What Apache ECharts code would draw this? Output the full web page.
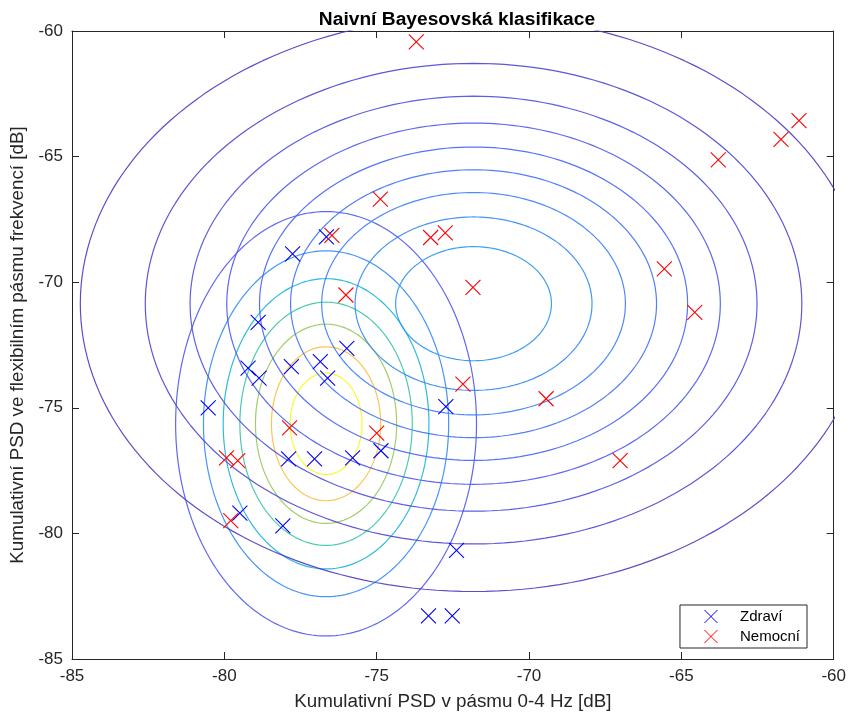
<!DOCTYPE html>
<html>
<head>
<meta charset="utf-8">
<title>Naivní Bayesovská klasifikace</title>
<style>
html, body {margin:0; padding:0; background:#fff;}
#chart {width:849px; height:717px;}
</style>
<script src="https://cdn.jsdelivr.net/npm/echarts@6/dist/echarts.min.js"></script>
</head>
<body>
<div id="chart"></div>
<script>
// kumulativní PSD v pásmu 0-4 Hz (x) a ve flexibilním pásmu (y), dB
const zdraviX = [-76.65, -77.76, -78.89, -79.22, -78.86, -77.80, -76.85, -75.98, -76.61, -80.53,
                 -72.73, -77.89, -77.04, -75.79, -74.86, -79.49, -78.08, -72.38, -73.30, -72.52];
const zdraviY = [-68.20, -68.87, -71.60, -73.42, -73.82, -73.36, -73.16, -72.63, -73.82, -75.00,
                 -74.95, -77.03, -77.03, -76.99, -76.71, -79.19, -79.70, -80.68, -83.28, -83.28];
const nemocniX = [-73.70, -74.88, -76.47, -73.23, -72.75, -76.01, -71.84, -65.56, -63.79, -61.73,
                  -61.14, -64.56, -72.17, -69.44, -67.01, -77.86, -75.00, -79.93, -79.56, -79.79];
const nemocniY = [-60.43, -66.69, -68.14, -68.22, -68.04, -70.51, -70.21, -69.47, -65.13, -64.31,
                  -63.57, -71.20, -74.06, -74.64, -77.10, -75.80, -76.01, -76.99, -77.10, -79.49];

// úrovně vrstevnic hustoty pro každou třídu
const levelsZdravi = [0.002, 0.004, 0.006, 0.008, 0.010, 0.012, 0.014];
const levelsNemocni = [0.0005, 0.001, 0.0015, 0.002, 0.0025, 0.003, 0.0035, 0.004, 0.0045];
const colorLimits = [0.0005, 0.014];

const axisTicks = [-85, -80, -75, -70, -65, -60];
const classNames = ['Zdraví', 'Nemocní'];

// parula (přibližně)
const parula = [
  [0.00, [74, 60, 192]], [0.10, [78, 84, 236]], [0.20, [62, 118, 250]], [0.30, [42, 150, 240]],
  [0.40, [22, 178, 222]], [0.55, [52, 196, 170]], [0.70, [150, 200, 92]], [0.85, [250, 190, 64]],
  [1.00, [248, 248, 24]]
];
function parulaColor(v){
  const t = Math.max(0, Math.min(1, (v - colorLimits[0]) / (colorLimits[1] - colorLimits[0])));
  let i = 0;
  while (i < parula.length - 2 && t > parula[i + 1][0]) i++;
  const a = parula[i], b = parula[i + 1];
  const f = (t - a[0]) / (b[0] - a[0]);
  const c = a[1].map((v0, k) => Math.round(v0 + (b[1][k] - v0) * f));
  return `rgb(${c[0]},${c[1]},${c[2]})`;
}

function mean(a){ return a.reduce((s, v) => s + v, 0) / a.length; }
function std(a){
  const m = mean(a);
  return Math.sqrt(a.reduce((s, v) => s + (v - m) * (v - m), 0) / (a.length - 1));
}

// vrstevnice normálního rozdělení s nezávislými složkami (naivní Bayes)
function contours(xs, ys, levels){
  const mx = mean(xs), my = mean(ys), sx = std(xs), sy = std(ys);
  const peak = 1 / (2 * Math.PI * sx * sy);
  return levels.filter(l => l < peak).map(l => {
    const r = Math.sqrt(2 * Math.log(peak / l));
    const pts = [];
    for (let i = 0; i <= 200; i++) {
      const t = 2 * Math.PI * i / 200;
      pts.push([mx + sx * r * Math.cos(t), my + sy * r * Math.sin(t)]);
    }
    return {
      type: 'line', data: pts, showSymbol: false, symbol: 'none', silent: true,
      lineStyle: {color: parulaColor(l), width: 1.2, opacity: 0.9},
      z: 2, animation: false
    };
  });
}

const xMark = 'path://M0,0L10,10M10,0L0,10';
const font = 'Liberation Sans, Arial, Helvetica, sans-serif';
const ink = '#262626';

function scatter(name, xs, ys, color){
  return {
    name: name, type: 'scatter', symbol: xMark, symbolSize: 15,
    data: xs.map((x, i) => [x, ys[i]]),
    itemStyle: {color: color, borderColor: color, borderWidth: 1.1, opacity: 1},
    emphasis: {disabled: true},
    z: 5, animation: false
  };
}

const axisCommon = {
  type: 'value', min: axisTicks[0], max: axisTicks[axisTicks.length - 1],
  interval: axisTicks[1] - axisTicks[0],
  splitLine: {show: false},
  axisLine: {show: true, lineStyle: {color: ink, width: 1}},
  axisTick: {show: true, inside: true, length: 7, lineStyle: {color: ink}}
};

const chart = echarts.init(document.getElementById('chart'));
chart.setOption({
  backgroundColor: '#fff',
  title: {
    text: 'Naivní Bayesovská klasifikace', left: 452, top: 5, textAlign: 'center',
    textStyle: {fontFamily: font, fontSize: 19.2, fontWeight: 'bold', color: '#000'}
  },
  grid: {left: 72, top: 31, width: 764, height: 628},
  legend: {
    data: classNames.map(n => ({name: n, icon: xMark})),
    orient: 'vertical', right: 42, bottom: 69,
    backgroundColor: '#fff', borderColor: ink, borderWidth: 1, borderRadius: 0,
    padding: [4, 7, 4, 24], itemWidth: 48, itemHeight: 13, itemGap: 5,
    itemStyle: {borderWidth: 1},
    textStyle: {fontFamily: font, fontSize: 15, color: '#000'}
  },
  xAxis: [
    Object.assign({}, axisCommon, {
      position: 'bottom',
      name: 'Kumulativní PSD v pásmu 0-4 Hz [dB]', nameLocation: 'middle', nameGap: 33,
      nameTextStyle: {fontFamily: font, fontSize: 18.8, color: ink},
      axisLabel: {fontFamily: font, fontSize: 17, color: ink, margin: 9}
    }),
    Object.assign({}, axisCommon, {position: 'top', axisLabel: {show: false}})
  ],
  yAxis: [
    Object.assign({}, axisCommon, {
      position: 'left',
      name: 'Kumulativní PSD ve flexibilním pásmu frekvencí [dB]', nameLocation: 'middle', nameGap: 35,
      nameTextStyle: {fontFamily: font, fontSize: 18.8, color: ink},
      axisLabel: {fontFamily: font, fontSize: 17, color: ink, margin: 9}
    }),
    Object.assign({}, axisCommon, {position: 'right', axisLabel: {show: false}})
  ],
  series: [
    ...contours(zdraviX, zdraviY, levelsZdravi),
    ...contours(nemocniX, nemocniY, levelsNemocni),
    scatter(classNames[0], zdraviX, zdraviY, '#0000ff'),
    scatter(classNames[1], nemocniX, nemocniY, '#ff0000')
  ]
});
</script>
</body>
</html>
